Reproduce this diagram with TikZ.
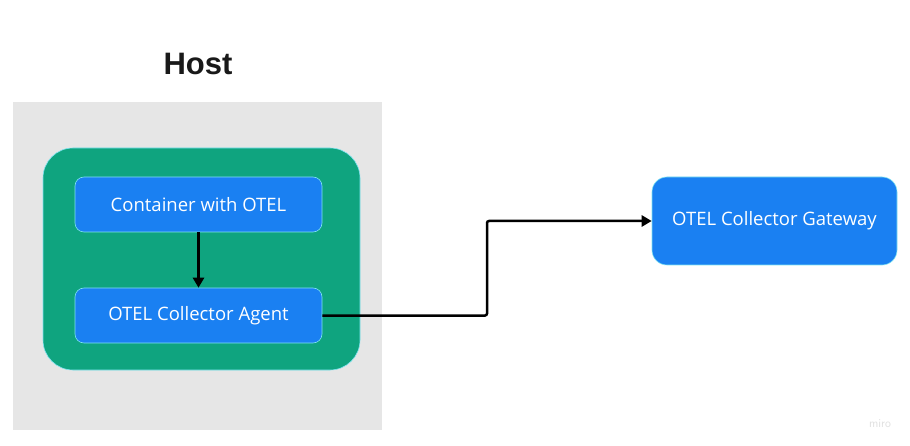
\documentclass[tikz,border=0pt]{standalone}
\usepackage{fontspec}
\setmainfont{Open Sans}
\newfontfamily\hostfont{Liberation Sans}
\usetikzlibrary{arrows.meta}
\definecolor{hostgray}{HTML}{E6E6E6}
\definecolor{agentgreen}{HTML}{0FA47F}
\definecolor{boxblue}{HTML}{1A80F2}
\definecolor{edgecyan}{HTML}{7FE3F0}
\tikzset{
  bluebox/.style={draw=edgecyan, line width=0.6pt, fill=boxblue, rounded corners=9pt, text=white, font=\fontsize{18.5}{22}\selectfont},
  conn/.style={draw=black, line width=2.5pt, -{Triangle[length=10pt,width=11pt]}},
}
\begin{document}
\begin{tikzpicture}[x=1pt,y=-1pt]
\useasboundingbox (0,0) rectangle (910,446);
\fill[white] (0,0) rectangle (910,446);
\node[font=\hostfont\bfseries\fontsize{31}{36}\selectfont, text=black!90] (host) at (198,64) {Host};
\fill[hostgray] (13,102) rectangle (382,430);
\filldraw[draw=edgecyan, line width=0.6pt, fill=agentgreen, rounded corners=30pt] (43,148) rectangle (360,370);
\node[bluebox, minimum width=247pt, minimum height=55pt] (cont) at (198.5,204.5) {Container with OTEL};
\node[bluebox, minimum width=247pt, minimum height=55pt] (agent) at (198.5,315.5) {OTEL Collector Agent};
\node[bluebox, rounded corners=15pt, minimum width=245pt, minimum height=88pt] (gw) at (774.5,221) {OTEL Collector Gateway};
\draw[conn] (cont.south) -- (agent.north);
\draw[conn, rounded corners=2pt] (agent.east) -- (487,315.5) -- (487,221) -- (gw.west);
\node[text=black!12, font=\sffamily\fontsize{12}{14}\selectfont] (miro) at (880,424) {miro};
\end{tikzpicture}
\end{document}
